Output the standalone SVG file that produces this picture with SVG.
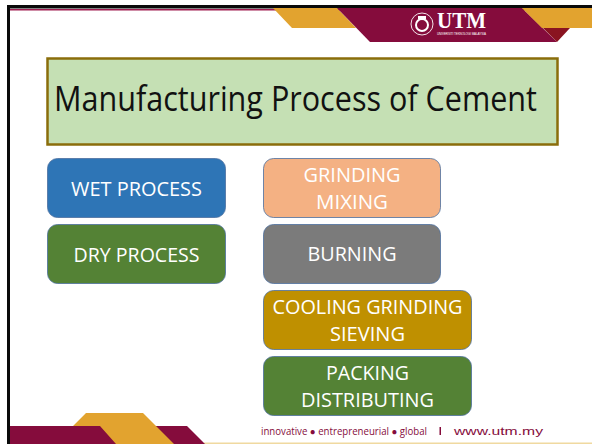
<svg xmlns="http://www.w3.org/2000/svg" width="592" height="444" viewBox="0 0 592 444">
<style>
.b{stroke:#4c6f9f;stroke-width:1;stroke-opacity:.8}
.t{font-family:"Open Sans","Noto Sans",sans-serif;font-size:20px;fill:#fff;text-anchor:middle}
.p{fill:#f4b183}.g{fill:#548235}
</style>
<rect width="592" height="444" fill="#fff"/>
<g id="frame">
<rect x="10" y="9" width="582" height="1.500" fill="#a01c50"/>
<rect x="7" y="5" width="585" height="3.500" fill="#0a0a0a"/>
<rect x="7" y="5" width="3" height="439" fill="#0a0a0a"/>
</g>
<g id="header">
<polygon points="273,8 337,8 356,28 292,28" fill="#e2a32f"/>
<polygon points="337,8 522,8 557,42 370,42" fill="#850c3c"/>
<polygon points="522,8 592,8 592,28 542,28" fill="#e2a32f"/>
<polygon points="543,28 570,28 557,42" fill="#8a1420"/>
<circle cx="422" cy="24" r="11" fill="none" stroke="#f3e4ea" stroke-width="1"/>
<circle cx="422" cy="25" r="6" fill="none" stroke="#fff" stroke-width="2"/>
<rect x="418" y="16" width="8" height="3" fill="#fff"/>
<text x="437" y="28" font-family="'Liberation Serif',serif" font-weight="700" font-size="23" fill="#fff" textLength="49" lengthAdjust="spacingAndGlyphs">UTM</text>
<text x="437" y="34.500" font-family="'Liberation Sans',sans-serif" font-size="3" fill="#fff" textLength="49">UNIVERSITI TEKNOLOGI MALAYSIA</text>
</g>
<g id="title">
<rect x="47.500" y="58.500" width="510" height="86" fill="#c5e0b4" stroke="#8a6d0b" stroke-width="2.500"/>
<text x="295.500" y="111" font-family="'Open Sans','Noto Sans',sans-serif" font-size="34" fill="#111" text-anchor="middle" textLength="483" lengthAdjust="spacingAndGlyphs">Manufacturing Process of Cement</text>
</g>
<g id="wet"><rect class="b" x="47.500" y="158.500" width="178" height="59" rx="10" fill="#2e75b6"/><text class="t" x="136.500" y="195.500" textLength="131" lengthAdjust="spacingAndGlyphs">WET PROCESS</text></g>
<g id="dry"><rect class="b" x="47.500" y="224.500" width="178" height="59" rx="10" fill="#548235"/><text class="t" x="136.500" y="261.500" textLength="126" lengthAdjust="spacingAndGlyphs">DRY PROCESS</text></g>
<g id="grinding"><rect class="b p" x="263.500" y="158.500" width="177" height="59" rx="10"/><text class="t" x="352" y="181.500" textLength="97" lengthAdjust="spacingAndGlyphs">GRINDING</text><text class="t" x="352" y="208.500" textLength="72" lengthAdjust="spacingAndGlyphs">MIXING</text></g>
<g id="burning"><rect class="b" x="263.500" y="224.500" width="177" height="59" rx="10" fill="#7b7b7b"/><text class="t" x="352" y="261" textLength="89" lengthAdjust="spacingAndGlyphs">BURNING</text></g>
<g id="cooling"><rect class="b" x="263.500" y="290.500" width="208" height="59" rx="10" fill="#bf9000"/><text class="t" x="367.500" y="313.500" textLength="190" lengthAdjust="spacingAndGlyphs">COOLING GRINDING</text><text class="t" x="367.500" y="340.500" textLength="75" lengthAdjust="spacingAndGlyphs">SIEVING</text></g>
<g id="packing"><rect class="b g" x="263.500" y="356.500" width="208" height="59" rx="10"/><text class="t" x="367.500" y="379.500" textLength="83" lengthAdjust="spacingAndGlyphs">PACKING</text><text class="t" x="367.500" y="406.500" textLength="133" lengthAdjust="spacingAndGlyphs">DISTRIBUTING</text></g>
<g id="footer">
<rect x="204" y="442.500" width="388" height="1.500" fill="#f0d9a0"/>
<polygon points="10,426 187,426 205,444 10,444" fill="#850c3c"/>
<polygon points="86,413 143,413 174,444 116,444 100,426 73,426" fill="#e2a32f"/>
<text x="261" y="435" font-family="'Open Sans','Noto Sans',sans-serif" font-size="10" fill="#850c3c" textLength="166" lengthAdjust="spacingAndGlyphs">innovative ● entrepreneurial ● global</text>
<rect x="439.500" y="427" width="1.500" height="8" fill="#850c3c"/>
<text x="454" y="435" font-family="'Liberation Sans',sans-serif" font-size="11.500" fill="#850c3c" textLength="89" lengthAdjust="spacingAndGlyphs">www.utm.my</text>
</g>
</svg>
